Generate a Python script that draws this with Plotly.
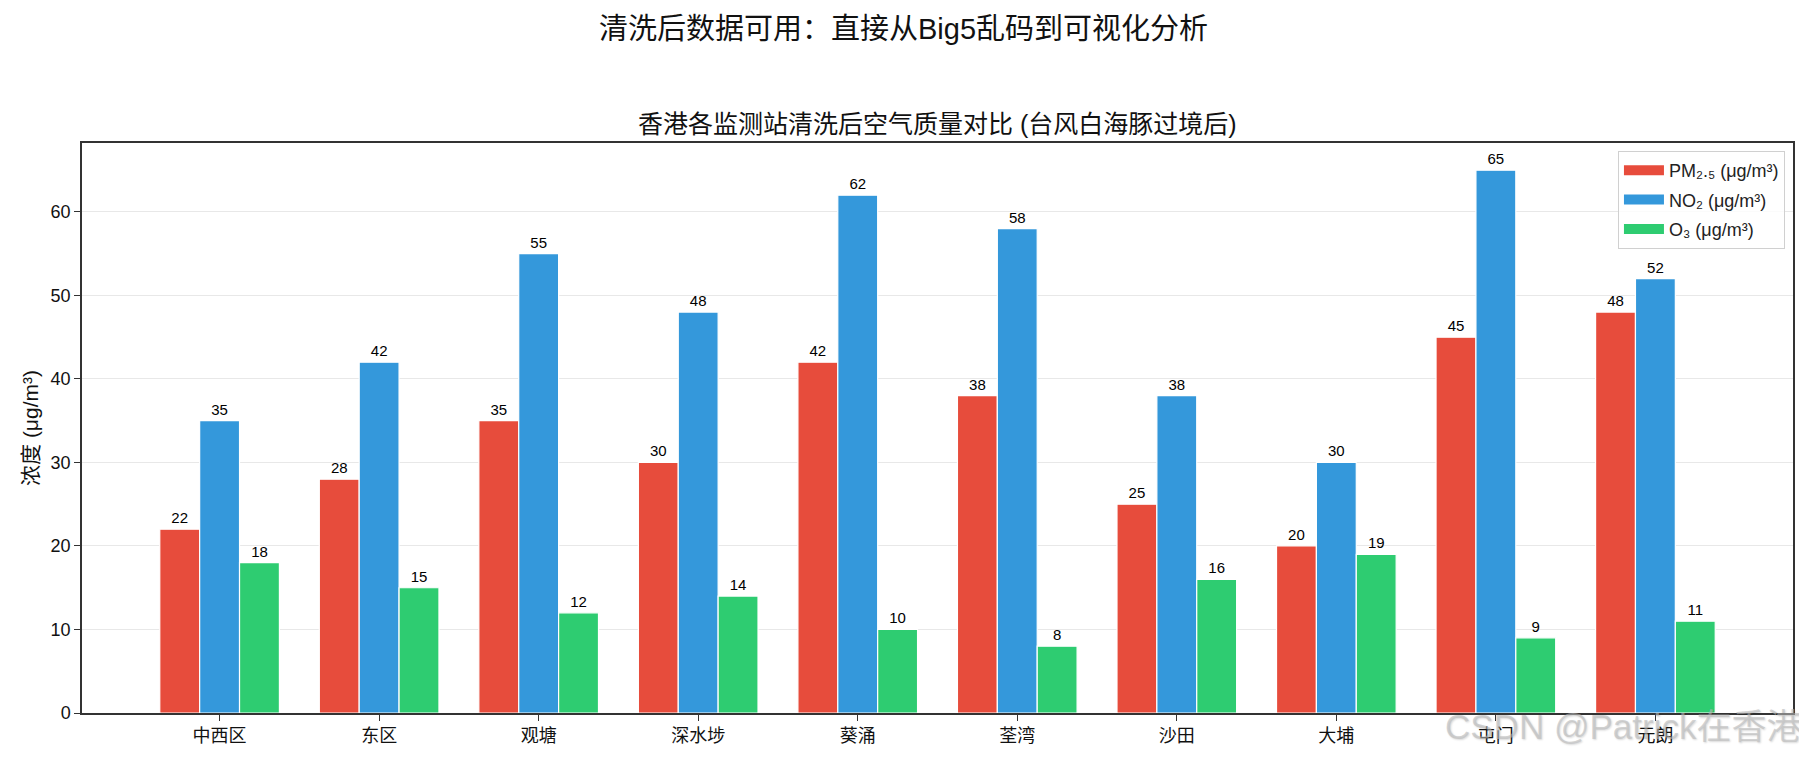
import plotly.graph_objects as go

stations = ["中西区", "东区", "观塘", "深水埗", "葵涌", "荃湾", "沙田", "大埔", "屯门", "元朗"]
pm25 = [22, 28, 35, 30, 42, 38, 25, 20, 45, 48]
no2 = [35, 42, 55, 48, 62, 58, 38, 30, 65, 52]
o3 = [18, 15, 12, 14, 10, 8, 16, 19, 9, 11]
series_names = ["PM₂.₅ (μg/m³)", "NO₂ (μg/m³)", "O₃ (μg/m³)"]
colors = ["#e74c3c", "#3498db", "#2ecc71"]

FONT = "Liberation Sans, Noto Sans CJK SC, sans-serif"

fig = go.Figure()
for i, (name, vals, c) in enumerate(zip(series_names, [pm25, no2, o3], colors)):
    fig.add_trace(go.Bar(
        x=stations, y=vals, name=name, legendgroup=f"g{i}", showlegend=False,
        marker=dict(color=c, line=dict(color="white", width=1.2)),
        text=[str(v) for v in vals], textposition="outside",
        textfont=dict(size=15, color="black", family=FONT),
        cliponaxis=False,
    ))
# legend-only entries drawn as wide colour patches (like matplotlib legend handles)
for i, (name, c) in enumerate(zip(series_names, colors)):
    fig.add_trace(go.Scatter(
        x=[None], y=[None], name=name, legendgroup=f"g{i}", mode="lines",
        line=dict(color=c, width=11), hoverinfo="skip",
    ))

fig.update_layout(
    width=1799, height=753,
    paper_bgcolor="white", plot_bgcolor="white",
    margin=dict(l=74, r=14, t=135, b=48),
    barmode="group", bargap=0.25, bargroupgap=0,
    font=dict(family=FONT, color="#222", size=16),
    showlegend=True,
    legend=dict(
        x=0.9953, y=0.986, xanchor="right", yanchor="top",
        bgcolor="rgba(255,255,255,0.8)", bordercolor="#d0d0d0", borderwidth=1,
        font=dict(size=18, family=FONT, color="#222"),
        itemwidth=40, tracegroupgap=3,
    ),
    annotations=[
        dict(text="清洗后数据可用：直接从Big5乱码到可视化分析", x=0.48, y=1.0, xref="paper", yref="paper",
             yanchor="middle", yshift=114, showarrow=False,
             font=dict(size=29, family=FONT, color="#111")),
        dict(text="香港各监测站清洗后空气质量对比 (台风白海豚过境后)", x=0.5, xref="paper", yref="paper",
             y=1.0, yanchor="middle", yshift=19, showarrow=False,
             font=dict(size=25, family=FONT, color="#111")),
        dict(text="CSDN @Patrick在香港", x=1.0, y=0, xref="paper", yref="paper",
             xanchor="right", yanchor="middle", xshift=10, yshift=-13, showarrow=False,
             font=dict(size=35, family=FONT, color="rgba(185,185,185,0.6)",
                       shadow="1px 1px 2px rgba(0,0,0,0.25)")),
    ],
)

fig.update_xaxes(
    range=[-0.8625, 9.8625],
    showline=True, linecolor="#333", linewidth=1.5, mirror=True,
    ticks="outside", ticklen=6, tickcolor="#333",
    tickfont=dict(size=18, family=FONT, color="#111"),
    showgrid=False,
)
fig.update_yaxes(
    range=[0, 68.25],
    tickvals=[0, 10, 20, 30, 40, 50, 60],
    showline=True, linecolor="#333", linewidth=1.5, mirror=True,
    ticks="outside", ticklen=6, tickcolor="#333",
    tickfont=dict(size=18, family=FONT, color="#111"),
    showgrid=True, gridcolor="#e8e8e8", gridwidth=1,
    zeroline=False,
    title=dict(text="浓度 (μg/m³)", font=dict(size=21, family=FONT, color="#111"), standoff=6),
)

fig.write_html("out.html")
